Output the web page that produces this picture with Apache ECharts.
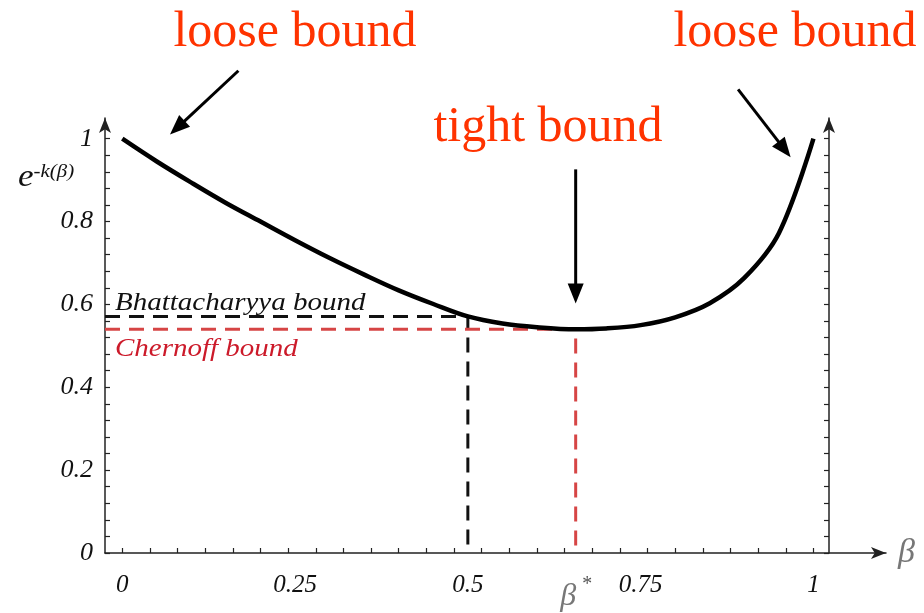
<!DOCTYPE html>
<html>
<head>
<meta charset="utf-8">
<script src="https://cdn.jsdelivr.net/npm/echarts@6/dist/echarts.min.js"></script>
<style>
  html, body { margin: 0; padding: 0; background: #fff; }
  #chart { width: 924px; height: 613px; }
</style>
</head>
<body>
<div id="chart"></div>
<script>
// e^{-k(beta)} as a function of beta
const betaValues  = [0, 0.05, 0.1, 0.15, 0.2, 0.25, 0.3, 0.35, 0.4, 0.45, 0.5, 0.55, 0.6, 0.656, 0.7, 0.75, 0.8, 0.85, 0.9, 0.95, 1];
const boundValues = [1.0, 0.945, 0.894, 0.845, 0.800, 0.755, 0.712, 0.672, 0.634, 0.601, 0.571, 0.554, 0.545, 0.540, 0.542, 0.550, 0.569, 0.603, 0.664, 0.772, 1.0];

// Bhattacharyya (beta = 1/2) and Chernoff (beta = beta*) bounds
const bhattacharyyaBeta = 0.5;
const bhattacharyyaValue = 0.571;
const chernoffBeta = 0.656;
const chernoffValue = 0.540;

// axis ticks and labels
const xTickValues  = [0, 0.04, 0.08, 0.12, 0.16, 0.2, 0.24, 0.28, 0.32, 0.36, 0.4, 0.44, 0.48, 0.52, 0.56, 0.6, 0.64, 0.68, 0.72, 0.76, 0.8, 0.84, 0.88, 0.92, 0.96, 1];
const xLabelValues = [0, 0.25, 0.5, chernoffBeta, 0.75, 1];
const yTickValues  = [0, 0.04, 0.08, 0.12, 0.16, 0.2, 0.24, 0.28, 0.32, 0.36, 0.4, 0.44, 0.48, 0.52, 0.56, 0.6, 0.64, 0.68, 0.72, 0.76, 0.8, 0.84, 0.88, 0.92, 0.96, 1];
const yLabelValues = [0, 0.2, 0.4, 0.6, 0.8, 1];

const SERIF = '"Liberation Serif", "Times New Roman", serif';
const AXIS_COLOR = '#222';
const RED_TEXT = '#ff3300';

const chart = echarts.init(document.getElementById('chart'), null, { renderer: 'canvas' });

const curveData = betaValues.map((b, i) => [b, boundValues[i]]);
const xLeft = -0.025;

const option = {
  animation: false,
  backgroundColor: '#fff',
  grid: { left: 105, right: 38, top: 118, bottom: 54 },
  xAxis: {
    type: 'value',
    min: xLeft,
    max: 1.105,
    name: 'β',
    nameLocation: 'end',
    nameGap: 12,
    nameTextStyle: { fontFamily: SERIF, fontStyle: 'italic', fontSize: 34, color: '#777' },
    axisLine: { onZero: false, symbol: ['none', 'arrow'], symbolSize: [9, 15], lineStyle: { color: AXIS_COLOR, width: 1.5 } },
    axisTick: { inside: true, length: 5, customValues: xTickValues, lineStyle: { color: AXIS_COLOR, width: 1.2 } },
    axisLabel: {
      customValues: xLabelValues,
      margin: 20,
      fontFamily: SERIF, fontStyle: 'italic', fontSize: 25, color: '#111',
      formatter: v => (v === chernoffBeta ? '{b|β}{s|*}' : String(v)),
      rich: {
        b: { fontFamily: SERIF, fontStyle: 'italic', fontSize: 32, color: '#777', padding: [8, 0, 0, 0] },
        s: { fontFamily: SERIF, fontSize: 20, color: '#555', verticalAlign: 'top', padding: [2, 0, 0, 5] }
      }
    },
    splitLine: { show: false }
  },
  yAxis: [
    {
      type: 'value',
      min: 0,
      max: 1.05,
      position: 'left',
      axisLine: { onZero: false, symbol: ['none', 'arrow'], symbolSize: [9, 15], lineStyle: { color: AXIS_COLOR, width: 1.5 } },
      axisTick: { inside: true, length: 5, customValues: yTickValues, lineStyle: { color: AXIS_COLOR, width: 1.2 } },
      axisLabel: {
        customValues: yLabelValues,
        margin: 12,
        fontFamily: SERIF, fontStyle: 'italic', fontSize: 26, color: '#111',
        formatter: v => String(v)
      },
      splitLine: { show: false }
    },
    {
      type: 'value',
      min: 0,
      max: 1.05,
      position: 'right',
      offset: -57,
      axisLine: { show: true, onZero: false, symbol: ['none', 'arrow'], symbolSize: [9, 15], lineStyle: { color: AXIS_COLOR, width: 1.5 } },
      axisTick: { show: true, inside: true, length: 5, customValues: yTickValues, lineStyle: { color: AXIS_COLOR, width: 1.2 } },
      axisLabel: { show: false },
      splitLine: { show: false }
    }
  ],
  series: [
    {
      name: 'Bhattacharyya',
      type: 'line',
      showSymbol: false,
      silent: true,
      z: 2,
      data: [[xLeft, bhattacharyyaValue], [bhattacharyyaBeta, bhattacharyyaValue], [bhattacharyyaBeta, 0]],
      lineStyle: { color: '#111', width: 3, type: [15, 9] }
    },
    {
      name: 'Chernoff',
      type: 'line',
      showSymbol: false,
      silent: true,
      z: 2,
      data: [[xLeft, chernoffValue], [chernoffBeta, chernoffValue], [chernoffBeta, 0]],
      lineStyle: { color: '#d64545', width: 3, type: [15, 9] }
    },
    {
      name: 'e^{-k(β)}',
      type: 'line',
      smooth: 0.35,
      showSymbol: false,
      silent: true,
      z: 3,
      data: curveData,
      lineStyle: { color: '#000', width: 4.5 }
    }
  ]
};

chart.setOption(option);

// annotation arrows, given in data coordinates: [from, to]
const arrowSpecs = [
  [[0.168, 1.164], [0.069, 1.010]],
  [[chernoffBeta, 0.926], [chernoffBeta, 0.602]],
  [[0.891, 1.119], [0.967, 0.955]]
];

function arrowGraphic(fromData, toData) {
  const p0 = chart.convertToPixel({ gridIndex: 0 }, fromData);
  const p1 = chart.convertToPixel({ gridIndex: 0 }, toData);
  const dx = p1[0] - p0[0], dy = p1[1] - p0[1];
  const len = Math.hypot(dx, dy);
  const ux = dx / len, uy = dy / len;
  const headLen = 20, headHalf = 8;
  const bx = p1[0] - ux * headLen, by = p1[1] - uy * headLen;
  return [
    {
      type: 'line',
      shape: { x1: p0[0], y1: p0[1], x2: bx + ux * 2, y2: by + uy * 2 },
      style: { stroke: '#000', lineWidth: 3 },
      z: 10
    },
    {
      type: 'polygon',
      shape: { points: [[p1[0], p1[1]], [bx - uy * headHalf, by + ux * headHalf], [bx + uy * headHalf, by - ux * headHalf]] },
      style: { fill: '#000' },
      z: 10
    }
  ];
}

const graphics = [];
arrowSpecs.forEach(s => graphics.push(...arrowGraphic(s[0], s[1])));

graphics.push(
  { type: 'text', x: 295, y: 33, z: 10, style: { text: 'loose bound', font: '50px ' + SERIF, fill: RED_TEXT, align: 'center', verticalAlign: 'middle' } },
  { type: 'text', x: 795, y: 33, z: 10, style: { text: 'loose bound', font: '50px ' + SERIF, fill: RED_TEXT, align: 'center', verticalAlign: 'middle' } },
  { type: 'text', x: 548, y: 128, z: 10, style: { text: 'tight bound', font: '50px ' + SERIF, fill: RED_TEXT, align: 'center', verticalAlign: 'middle' } },
  { type: 'text', x: 115, y: 303, scaleX: 1.16, z: 10, style: { text: 'Bhattacharyya bound', font: 'italic 25px ' + SERIF, fill: '#111', align: 'left', verticalAlign: 'middle' } },
  { type: 'text', x: 115, y: 349, scaleX: 1.16, z: 10, style: { text: 'Chernoff bound', font: 'italic 25px ' + SERIF, fill: '#cc1a2a', align: 'left', verticalAlign: 'middle' } },
  {
    type: 'text', x: 18, y: 178, scaleX: 1.1, z: 10,
    style: {
      text: '{e|e}{s|-k(β)}',
      align: 'left', verticalAlign: 'middle',
      rich: {
        e: { font: 'italic 32px ' + SERIF, fill: '#111', verticalAlign: 'bottom' },
        s: { font: 'italic 19px ' + SERIF, fill: '#111', verticalAlign: 'top' }
      }
    }
  }
);

chart.setOption({ graphic: graphics });
</script>
</body>
</html>
